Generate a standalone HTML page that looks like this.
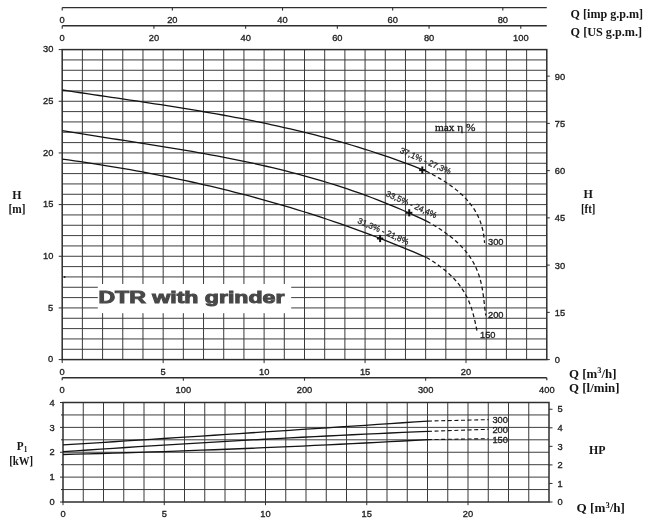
<!DOCTYPE html>
<html><head><meta charset="utf-8"><style>html,body{margin:0;padding:0;background:#fff;width:650px;height:521px;overflow:hidden}svg{display:block;will-change:transform} .n{font-family:'Liberation Sans',sans-serif;font-size:9.9px;fill:#222;stroke:#222;stroke-width:0.35px} .s{font-family:'Liberation Serif',serif;font-weight:bold;fill:#161616}</style></head>
<body><svg width="650" height="521" viewBox="0 0 650 521"><line x1="82.39" y1="49.60" x2="82.39" y2="359.60" stroke="#3a3a3a" stroke-width="1.0" />
<line x1="102.58" y1="49.60" x2="102.58" y2="359.60" stroke="#3a3a3a" stroke-width="1.0" />
<line x1="122.78" y1="49.60" x2="122.78" y2="359.60" stroke="#3a3a3a" stroke-width="1.0" />
<line x1="142.97" y1="49.60" x2="142.97" y2="359.60" stroke="#3a3a3a" stroke-width="1.0" />
<line x1="163.16" y1="49.60" x2="163.16" y2="359.60" stroke="#3a3a3a" stroke-width="1.0" />
<line x1="183.35" y1="49.60" x2="183.35" y2="359.60" stroke="#3a3a3a" stroke-width="1.0" />
<line x1="203.54" y1="49.60" x2="203.54" y2="359.60" stroke="#3a3a3a" stroke-width="1.0" />
<line x1="223.73" y1="49.60" x2="223.73" y2="359.60" stroke="#3a3a3a" stroke-width="1.0" />
<line x1="243.93" y1="49.60" x2="243.93" y2="359.60" stroke="#3a3a3a" stroke-width="1.0" />
<line x1="264.12" y1="49.60" x2="264.12" y2="359.60" stroke="#3a3a3a" stroke-width="1.0" />
<line x1="284.31" y1="49.60" x2="284.31" y2="359.60" stroke="#3a3a3a" stroke-width="1.0" />
<line x1="304.50" y1="49.60" x2="304.50" y2="359.60" stroke="#3a3a3a" stroke-width="1.0" />
<line x1="324.69" y1="49.60" x2="324.69" y2="359.60" stroke="#3a3a3a" stroke-width="1.0" />
<line x1="344.88" y1="49.60" x2="344.88" y2="359.60" stroke="#3a3a3a" stroke-width="1.0" />
<line x1="365.07" y1="49.60" x2="365.07" y2="359.60" stroke="#3a3a3a" stroke-width="1.0" />
<line x1="385.27" y1="49.60" x2="385.27" y2="359.60" stroke="#3a3a3a" stroke-width="1.0" />
<line x1="405.46" y1="49.60" x2="405.46" y2="359.60" stroke="#3a3a3a" stroke-width="1.0" />
<line x1="425.65" y1="49.60" x2="425.65" y2="359.60" stroke="#3a3a3a" stroke-width="1.0" />
<line x1="445.84" y1="49.60" x2="445.84" y2="359.60" stroke="#3a3a3a" stroke-width="1.0" />
<line x1="466.03" y1="49.60" x2="466.03" y2="359.60" stroke="#3a3a3a" stroke-width="1.0" />
<line x1="486.22" y1="49.60" x2="486.22" y2="359.60" stroke="#3a3a3a" stroke-width="1.0" />
<line x1="506.42" y1="49.60" x2="506.42" y2="359.60" stroke="#3a3a3a" stroke-width="1.0" />
<line x1="526.61" y1="49.60" x2="526.61" y2="359.60" stroke="#3a3a3a" stroke-width="1.0" />
<line x1="62.20" y1="349.27" x2="546.80" y2="349.27" stroke="#3e3e3e" stroke-width="1.0" />
<line x1="62.20" y1="338.93" x2="546.80" y2="338.93" stroke="#3e3e3e" stroke-width="1.0" />
<line x1="62.20" y1="328.60" x2="546.80" y2="328.60" stroke="#3e3e3e" stroke-width="1.0" />
<line x1="62.20" y1="318.27" x2="546.80" y2="318.27" stroke="#3e3e3e" stroke-width="1.0" />
<line x1="62.20" y1="307.93" x2="546.80" y2="307.93" stroke="#3e3e3e" stroke-width="1.0" />
<line x1="62.20" y1="297.60" x2="546.80" y2="297.60" stroke="#3e3e3e" stroke-width="1.0" />
<line x1="62.20" y1="287.27" x2="546.80" y2="287.27" stroke="#3e3e3e" stroke-width="1.0" />
<line x1="62.20" y1="276.93" x2="546.80" y2="276.93" stroke="#3e3e3e" stroke-width="1.0" />
<line x1="62.20" y1="266.60" x2="546.80" y2="266.60" stroke="#3e3e3e" stroke-width="1.0" />
<line x1="62.20" y1="256.27" x2="546.80" y2="256.27" stroke="#3e3e3e" stroke-width="1.0" />
<line x1="62.20" y1="245.93" x2="546.80" y2="245.93" stroke="#3e3e3e" stroke-width="1.0" />
<line x1="62.20" y1="235.60" x2="546.80" y2="235.60" stroke="#3e3e3e" stroke-width="1.0" />
<line x1="62.20" y1="225.27" x2="546.80" y2="225.27" stroke="#3e3e3e" stroke-width="1.0" />
<line x1="62.20" y1="214.93" x2="546.80" y2="214.93" stroke="#3e3e3e" stroke-width="1.0" />
<line x1="62.20" y1="204.60" x2="546.80" y2="204.60" stroke="#3e3e3e" stroke-width="1.0" />
<line x1="62.20" y1="194.27" x2="546.80" y2="194.27" stroke="#3e3e3e" stroke-width="1.0" />
<line x1="62.20" y1="183.93" x2="546.80" y2="183.93" stroke="#3e3e3e" stroke-width="1.0" />
<line x1="62.20" y1="173.60" x2="546.80" y2="173.60" stroke="#3e3e3e" stroke-width="1.0" />
<line x1="62.20" y1="163.27" x2="546.80" y2="163.27" stroke="#3e3e3e" stroke-width="1.0" />
<line x1="62.20" y1="152.93" x2="546.80" y2="152.93" stroke="#3e3e3e" stroke-width="1.0" />
<line x1="62.20" y1="142.60" x2="546.80" y2="142.60" stroke="#3e3e3e" stroke-width="1.0" />
<line x1="62.20" y1="132.27" x2="546.80" y2="132.27" stroke="#3e3e3e" stroke-width="1.0" />
<line x1="62.20" y1="121.93" x2="546.80" y2="121.93" stroke="#3e3e3e" stroke-width="1.0" />
<line x1="62.20" y1="111.60" x2="546.80" y2="111.60" stroke="#3e3e3e" stroke-width="1.0" />
<line x1="62.20" y1="101.27" x2="546.80" y2="101.27" stroke="#3e3e3e" stroke-width="1.0" />
<line x1="62.20" y1="90.93" x2="546.80" y2="90.93" stroke="#3e3e3e" stroke-width="1.0" />
<line x1="62.20" y1="80.60" x2="546.80" y2="80.60" stroke="#3e3e3e" stroke-width="1.0" />
<line x1="62.20" y1="70.27" x2="546.80" y2="70.27" stroke="#3e3e3e" stroke-width="1.0" />
<line x1="62.20" y1="59.93" x2="546.80" y2="59.93" stroke="#3e3e3e" stroke-width="1.0" />
<rect x="97.8" y="284" width="193.4" height="29.2" fill="#fff"/>
<rect x="62.20" y="49.60" width="484.60" height="310.00" fill="none" stroke="#2e2e2e" stroke-width="1.5"/>
<line x1="58.70" y1="359.60" x2="62.20" y2="359.60" stroke="#2e2e2e" stroke-width="1.0" />
<text transform="translate(53.30,362.30) scale(0.94,1)" class="n" text-anchor="end">0</text>
<line x1="58.70" y1="307.93" x2="62.20" y2="307.93" stroke="#2e2e2e" stroke-width="1.0" />
<text transform="translate(53.30,310.63) scale(0.94,1)" class="n" text-anchor="end">5</text>
<line x1="58.70" y1="256.27" x2="62.20" y2="256.27" stroke="#2e2e2e" stroke-width="1.0" />
<text transform="translate(53.30,258.97) scale(0.94,1)" class="n" text-anchor="end">10</text>
<line x1="58.70" y1="204.60" x2="62.20" y2="204.60" stroke="#2e2e2e" stroke-width="1.0" />
<text transform="translate(53.30,207.30) scale(0.94,1)" class="n" text-anchor="end">15</text>
<line x1="58.70" y1="152.93" x2="62.20" y2="152.93" stroke="#2e2e2e" stroke-width="1.0" />
<text transform="translate(53.30,155.63) scale(0.94,1)" class="n" text-anchor="end">20</text>
<line x1="58.70" y1="101.27" x2="62.20" y2="101.27" stroke="#2e2e2e" stroke-width="1.0" />
<text transform="translate(53.30,103.97) scale(0.94,1)" class="n" text-anchor="end">25</text>
<line x1="58.70" y1="49.60" x2="62.20" y2="49.60" stroke="#2e2e2e" stroke-width="1.0" />
<text transform="translate(53.30,52.30) scale(0.94,1)" class="n" text-anchor="end">30</text>
<line x1="546.80" y1="359.60" x2="549.80" y2="359.60" stroke="#2e2e2e" stroke-width="1.0" />
<text transform="translate(554.80,363.10) scale(0.94,1)" class="n" text-anchor="start">0</text>
<line x1="546.80" y1="312.36" x2="549.80" y2="312.36" stroke="#2e2e2e" stroke-width="1.0" />
<text transform="translate(554.80,315.86) scale(0.94,1)" class="n" text-anchor="start">15</text>
<line x1="546.80" y1="265.11" x2="549.80" y2="265.11" stroke="#2e2e2e" stroke-width="1.0" />
<text transform="translate(554.80,268.61) scale(0.94,1)" class="n" text-anchor="start">30</text>
<line x1="546.80" y1="217.87" x2="549.80" y2="217.87" stroke="#2e2e2e" stroke-width="1.0" />
<text transform="translate(554.80,221.37) scale(0.94,1)" class="n" text-anchor="start">45</text>
<line x1="546.80" y1="170.62" x2="549.80" y2="170.62" stroke="#2e2e2e" stroke-width="1.0" />
<text transform="translate(554.80,174.12) scale(0.94,1)" class="n" text-anchor="start">60</text>
<line x1="546.80" y1="123.38" x2="549.80" y2="123.38" stroke="#2e2e2e" stroke-width="1.0" />
<text transform="translate(554.80,126.88) scale(0.94,1)" class="n" text-anchor="start">75</text>
<line x1="546.80" y1="76.14" x2="549.80" y2="76.14" stroke="#2e2e2e" stroke-width="1.0" />
<text transform="translate(554.80,79.64) scale(0.94,1)" class="n" text-anchor="start">90</text>
<line x1="62.20" y1="359.60" x2="62.20" y2="363.10" stroke="#2e2e2e" stroke-width="1.0" />
<text transform="translate(62.20,374.80) scale(0.94,1)" class="n" text-anchor="middle">0</text>
<line x1="163.16" y1="359.60" x2="163.16" y2="363.10" stroke="#2e2e2e" stroke-width="1.0" />
<text transform="translate(163.16,374.80) scale(0.94,1)" class="n" text-anchor="middle">5</text>
<line x1="264.12" y1="359.60" x2="264.12" y2="363.10" stroke="#2e2e2e" stroke-width="1.0" />
<text transform="translate(264.12,374.80) scale(0.94,1)" class="n" text-anchor="middle">10</text>
<line x1="365.07" y1="359.60" x2="365.07" y2="363.10" stroke="#2e2e2e" stroke-width="1.0" />
<text transform="translate(365.07,374.80) scale(0.94,1)" class="n" text-anchor="middle">15</text>
<line x1="466.03" y1="359.60" x2="466.03" y2="363.10" stroke="#2e2e2e" stroke-width="1.0" />
<text transform="translate(466.03,374.80) scale(0.94,1)" class="n" text-anchor="middle">20</text>
<line x1="62.20" y1="377.70" x2="546.80" y2="377.70" stroke="#2e2e2e" stroke-width="1.4" />
<line x1="62.20" y1="377.70" x2="62.20" y2="380.20" stroke="#2e2e2e" stroke-width="1.2" />
<line x1="546.80" y1="377.70" x2="546.80" y2="380.20" stroke="#2e2e2e" stroke-width="1.2" />
<line x1="183.35" y1="377.70" x2="183.35" y2="380.70" stroke="#2e2e2e" stroke-width="1.1" />
<line x1="304.50" y1="377.70" x2="304.50" y2="380.70" stroke="#2e2e2e" stroke-width="1.1" />
<line x1="425.65" y1="377.70" x2="425.65" y2="380.70" stroke="#2e2e2e" stroke-width="1.1" />
<text transform="translate(62.20,392.90) scale(0.94,1)" class="n" text-anchor="middle">0</text>
<text transform="translate(183.35,392.90) scale(0.94,1)" class="n" text-anchor="middle">100</text>
<text transform="translate(304.50,392.90) scale(0.94,1)" class="n" text-anchor="middle">200</text>
<text transform="translate(425.65,392.90) scale(0.94,1)" class="n" text-anchor="middle">300</text>
<text transform="translate(546.80,392.90) scale(0.94,1)" class="n" text-anchor="middle">400</text>
<line x1="62.20" y1="7.60" x2="546.80" y2="7.60" stroke="#2e2e2e" stroke-width="1.4" />
<line x1="62.20" y1="25.70" x2="546.80" y2="25.70" stroke="#2e2e2e" stroke-width="1.4" />
<line x1="62.20" y1="7.60" x2="62.20" y2="10.60" stroke="#2e2e2e" stroke-width="1.1" />
<text transform="translate(62.20,23.10) scale(0.94,1)" class="n" text-anchor="middle">0</text>
<line x1="172.36" y1="7.60" x2="172.36" y2="10.60" stroke="#2e2e2e" stroke-width="1.1" />
<text transform="translate(172.36,23.10) scale(0.94,1)" class="n" text-anchor="middle">20</text>
<line x1="282.51" y1="7.60" x2="282.51" y2="10.60" stroke="#2e2e2e" stroke-width="1.1" />
<text transform="translate(282.51,23.10) scale(0.94,1)" class="n" text-anchor="middle">40</text>
<line x1="392.67" y1="7.60" x2="392.67" y2="10.60" stroke="#2e2e2e" stroke-width="1.1" />
<text transform="translate(392.67,23.10) scale(0.94,1)" class="n" text-anchor="middle">60</text>
<line x1="502.83" y1="7.60" x2="502.83" y2="10.60" stroke="#2e2e2e" stroke-width="1.1" />
<text transform="translate(502.83,23.10) scale(0.94,1)" class="n" text-anchor="middle">80</text>
<line x1="62.20" y1="25.70" x2="62.20" y2="28.70" stroke="#2e2e2e" stroke-width="1.1" />
<text transform="translate(62.20,40.90) scale(0.94,1)" class="n" text-anchor="middle">0</text>
<line x1="153.92" y1="25.70" x2="153.92" y2="28.70" stroke="#2e2e2e" stroke-width="1.1" />
<text transform="translate(153.92,40.90) scale(0.94,1)" class="n" text-anchor="middle">20</text>
<line x1="245.64" y1="25.70" x2="245.64" y2="28.70" stroke="#2e2e2e" stroke-width="1.1" />
<text transform="translate(245.64,40.90) scale(0.94,1)" class="n" text-anchor="middle">40</text>
<line x1="337.35" y1="25.70" x2="337.35" y2="28.70" stroke="#2e2e2e" stroke-width="1.1" />
<text transform="translate(337.35,40.90) scale(0.94,1)" class="n" text-anchor="middle">60</text>
<line x1="429.07" y1="25.70" x2="429.07" y2="28.70" stroke="#2e2e2e" stroke-width="1.1" />
<text transform="translate(429.07,40.90) scale(0.94,1)" class="n" text-anchor="middle">80</text>
<line x1="520.79" y1="25.70" x2="520.79" y2="28.70" stroke="#2e2e2e" stroke-width="1.1" />
<text transform="translate(520.79,40.90) scale(0.94,1)" class="n" text-anchor="middle">100</text>
<path d="M62.20,89.99 L68.37,90.92 L74.53,91.84 L80.70,92.76 L86.86,93.68 L93.03,94.59 L99.20,95.49 L105.36,96.40 L111.53,97.31 L117.69,98.22 L123.86,99.13 L130.03,100.04 L136.19,100.96 L142.36,101.89 L148.53,102.82 L154.69,103.77 L160.86,104.72 L167.02,105.68 L173.19,106.65 L179.36,107.64 L185.52,108.64 L191.69,109.66 L197.85,110.69 L204.02,111.74 L210.19,112.81 L216.35,113.90 L222.52,115.01 L228.68,116.14 L234.85,117.30 L241.02,118.48 L247.18,119.68 L253.35,120.92 L259.52,122.18 L265.68,123.47 L271.85,124.79 L278.01,126.14 L284.18,127.53 L290.35,128.95 L296.51,130.40 L302.68,131.89 L308.84,133.42 L315.01,134.98 L321.18,136.59 L327.34,138.24 L333.51,139.92 L339.67,141.66 L345.84,143.43 L352.01,145.25 L358.17,147.12 L364.34,149.04 L370.51,151.00 L376.67,153.02 L382.84,155.08 L389.00,157.20 L395.17,159.37 L401.34,161.60 L407.50,163.88 L413.67,166.22 L419.83,168.62 L426.00,171.08" fill="none" stroke="#141414" stroke-width="1.3"/>
<path d="M425.99,171.08 L428.89,172.54 L431.69,174.01 L434.40,175.47 L437.01,176.94 L439.53,178.41 L441.96,179.87 L444.31,181.34 L446.56,182.80 L448.73,184.27 L450.81,185.73 L452.81,187.20 L454.74,188.67 L456.58,190.13 L458.34,191.60 L460.03,193.06 L461.65,194.53 L463.19,195.99 L464.67,197.46 L466.07,198.93 L467.41,200.39 L468.68,201.86 L469.89,203.32 L471.03,204.79 L472.12,206.26 L473.15,207.72 L474.12,209.19 L475.03,210.65 L475.89,212.12 L476.70,213.58 L477.46,215.05 L478.17,216.52 L478.84,217.98 L479.46,219.45 L480.03,220.91 L480.56,222.38 L481.06,223.84 L481.51,225.31 L481.93,226.78 L482.31,228.24 L482.66,229.71 L482.98,231.17 L483.27,232.64 L483.53,234.11 L483.76,235.57 L483.97,237.04 L484.15,238.50 L484.31,239.97 L484.46,241.43 L484.58,242.90" fill="none" stroke="#141414" stroke-width="1.25" stroke-dasharray="4,2.8"/>
<path d="M62.20,130.65 L68.38,131.67 L74.57,132.68 L80.75,133.68 L86.93,134.66 L93.12,135.64 L99.30,136.61 L105.48,137.57 L111.66,138.53 L117.85,139.49 L124.03,140.45 L130.21,141.42 L136.40,142.38 L142.58,143.35 L148.76,144.32 L154.95,145.31 L161.13,146.30 L167.31,147.31 L173.49,148.32 L179.68,149.36 L185.86,150.40 L192.04,151.47 L198.23,152.55 L204.41,153.66 L210.59,154.79 L216.78,155.94 L222.96,157.12 L229.14,158.33 L235.33,159.57 L241.51,160.84 L247.69,162.14 L253.87,163.47 L260.06,164.84 L266.24,166.25 L272.42,167.70 L278.61,169.18 L284.79,170.71 L290.97,172.29 L297.16,173.91 L303.34,175.57 L309.52,177.29 L315.71,179.06 L321.89,180.88 L328.07,182.75 L334.25,184.68 L340.44,186.66 L346.62,188.71 L352.80,190.81 L358.99,192.98 L365.17,195.21 L371.35,197.50 L377.54,199.87 L383.72,202.30 L389.90,204.80 L396.08,207.37 L402.27,210.02 L408.45,212.74 L414.63,215.54 L420.82,218.42 L427.00,221.37" fill="none" stroke="#141414" stroke-width="1.3"/>
<path d="M427.01,221.37 L430.46,223.29 L433.77,225.21 L436.93,227.14 L439.94,229.06 L442.82,230.98 L445.56,232.90 L448.17,234.82 L450.66,236.74 L453.02,238.66 L455.26,240.58 L457.38,242.50 L459.39,244.42 L461.29,246.35 L463.08,248.27 L464.76,250.19 L466.35,252.11 L467.84,254.03 L469.24,255.95 L470.55,257.87 L471.78,259.79 L472.92,261.71 L473.98,263.63 L474.97,265.56 L475.89,267.48 L476.74,269.40 L477.52,271.32 L478.24,273.24 L478.91,275.16 L479.52,277.08 L480.08,279.00 L480.59,280.92 L481.06,282.84 L481.49,284.76 L481.89,286.69 L482.25,288.61 L482.58,290.53 L482.88,292.45 L483.16,294.37 L483.42,296.29 L483.67,298.21 L483.91,300.13 L484.13,302.05 L484.35,303.97 L484.57,305.90 L484.79,307.82 L485.02,309.74 L485.26,311.66 L485.51,313.58 L485.77,315.50" fill="none" stroke="#141414" stroke-width="1.25" stroke-dasharray="4,2.8"/>
<path d="M62.20,159.10 L68.37,159.95 L74.55,160.82 L80.72,161.72 L86.90,162.64 L93.07,163.58 L99.25,164.54 L105.42,165.53 L111.60,166.54 L117.77,167.57 L123.95,168.63 L130.12,169.72 L136.29,170.82 L142.47,171.96 L148.64,173.12 L154.82,174.31 L160.99,175.52 L167.17,176.76 L173.34,178.03 L179.52,179.32 L185.69,180.64 L191.87,181.99 L198.04,183.37 L204.22,184.78 L210.39,186.22 L216.56,187.68 L222.74,189.18 L228.91,190.71 L235.09,192.26 L241.26,193.85 L247.44,195.47 L253.61,197.12 L259.79,198.80 L265.96,200.52 L272.14,202.26 L278.31,204.04 L284.48,205.86 L290.66,207.70 L296.83,209.58 L303.01,211.50 L309.18,213.45 L315.36,215.43 L321.53,217.45 L327.71,219.50 L333.88,221.59 L340.06,223.72 L346.23,225.88 L352.41,228.08 L358.58,230.32 L364.75,232.59 L370.93,234.91 L377.10,237.26 L383.28,239.65 L389.45,242.07 L395.63,244.54 L401.80,247.05 L407.98,249.59 L414.15,252.18 L420.33,254.81 L426.50,257.48" fill="none" stroke="#141414" stroke-width="1.3"/>
<path d="M426.49,257.48 L429.06,259.02 L431.53,260.56 L433.90,262.10 L436.18,263.64 L438.36,265.18 L440.46,266.72 L442.48,268.26 L444.40,269.81 L446.25,271.35 L448.02,272.89 L449.70,274.43 L451.32,275.97 L452.85,277.51 L454.32,279.05 L455.72,280.60 L457.05,282.14 L458.31,283.68 L459.52,285.22 L460.66,286.76 L461.74,288.30 L462.77,289.84 L463.74,291.38 L464.66,292.93 L465.53,294.47 L466.36,296.01 L467.14,297.55 L467.87,299.09 L468.56,300.63 L469.22,302.17 L469.84,303.72 L470.42,305.26 L470.97,306.80 L471.49,308.34 L471.98,309.88 L472.45,311.42 L472.89,312.96 L473.31,314.50 L473.71,316.05 L474.09,317.59 L474.46,319.13 L474.82,320.67 L475.16,322.21 L475.50,323.75 L475.83,325.29 L476.15,326.83 L476.48,328.38 L476.80,329.92 L477.12,331.46 L477.45,333.00" fill="none" stroke="#141414" stroke-width="1.25" stroke-dasharray="4,2.8"/>
<line x1="419.10" y1="170.10" x2="425.50" y2="170.10" stroke="#111" stroke-width="2.0" />
<line x1="422.30" y1="166.50" x2="422.30" y2="173.70" stroke="#111" stroke-width="2.0" />
<line x1="406.00" y1="212.80" x2="412.40" y2="212.80" stroke="#111" stroke-width="2.0" />
<line x1="409.20" y1="209.20" x2="409.20" y2="216.40" stroke="#111" stroke-width="2.0" />
<line x1="376.90" y1="238.50" x2="383.30" y2="238.50" stroke="#111" stroke-width="2.0" />
<line x1="380.10" y1="234.90" x2="380.10" y2="242.10" stroke="#111" stroke-width="2.0" />
<text x="0" y="0" transform="translate(399.30,152.50) rotate(23.7)" font-family="Liberation Sans" font-size="8.4" fill="#2b2b2b" stroke="#2b2b2b" stroke-width="0.3">37,1% - 27,3%</text>
<text x="0" y="0" transform="translate(385.30,195.80) rotate(24.2)" font-family="Liberation Sans" font-size="8.4" fill="#2b2b2b" stroke="#2b2b2b" stroke-width="0.3">33,5% - 24,4%</text>
<text x="0" y="0" transform="translate(357.10,222.80) rotate(23.7)" font-family="Liberation Sans" font-size="8.4" fill="#2b2b2b" stroke="#2b2b2b" stroke-width="0.3">31,3% - 21,8%</text>
<text transform="translate(488.00,244.80) scale(0.94,1)" class="n" text-anchor="start">300</text>
<text transform="translate(488.00,317.60) scale(0.94,1)" class="n" text-anchor="start">200</text>
<text transform="translate(480.00,337.50) scale(0.94,1)" class="n" text-anchor="start">150</text>
<text x="435.00" y="130.70" font-family="Liberation Serif" font-size="11" font-weight="normal" fill="#1a1a1a" text-anchor="start" textLength="40.5" lengthAdjust="spacingAndGlyphs" stroke="#1a1a1a" stroke-width="0.35">max η %</text>
<circle cx="64.6" cy="276.9" r="1" fill="#222"/>
<text x="98.40" y="302.90" font-family="Liberation Sans" font-size="16" font-weight="bold" fill="#484848" text-anchor="start" textLength="186" lengthAdjust="spacingAndGlyphs" stroke="#484848" stroke-width="0.95">DTR with grinder</text>
<line x1="83.25" y1="402.50" x2="83.25" y2="502.00" stroke="#3a3a3a" stroke-width="1.0" />
<line x1="103.50" y1="402.50" x2="103.50" y2="502.00" stroke="#3a3a3a" stroke-width="1.0" />
<line x1="123.75" y1="402.50" x2="123.75" y2="502.00" stroke="#3a3a3a" stroke-width="1.0" />
<line x1="144.00" y1="402.50" x2="144.00" y2="502.00" stroke="#3a3a3a" stroke-width="1.0" />
<line x1="164.25" y1="402.50" x2="164.25" y2="502.00" stroke="#3a3a3a" stroke-width="1.0" />
<line x1="184.50" y1="402.50" x2="184.50" y2="502.00" stroke="#3a3a3a" stroke-width="1.0" />
<line x1="204.75" y1="402.50" x2="204.75" y2="502.00" stroke="#3a3a3a" stroke-width="1.0" />
<line x1="225.00" y1="402.50" x2="225.00" y2="502.00" stroke="#3a3a3a" stroke-width="1.0" />
<line x1="245.25" y1="402.50" x2="245.25" y2="502.00" stroke="#3a3a3a" stroke-width="1.0" />
<line x1="265.50" y1="402.50" x2="265.50" y2="502.00" stroke="#3a3a3a" stroke-width="1.0" />
<line x1="285.75" y1="402.50" x2="285.75" y2="502.00" stroke="#3a3a3a" stroke-width="1.0" />
<line x1="306.00" y1="402.50" x2="306.00" y2="502.00" stroke="#3a3a3a" stroke-width="1.0" />
<line x1="326.25" y1="402.50" x2="326.25" y2="502.00" stroke="#3a3a3a" stroke-width="1.0" />
<line x1="346.50" y1="402.50" x2="346.50" y2="502.00" stroke="#3a3a3a" stroke-width="1.0" />
<line x1="366.75" y1="402.50" x2="366.75" y2="502.00" stroke="#3a3a3a" stroke-width="1.0" />
<line x1="387.00" y1="402.50" x2="387.00" y2="502.00" stroke="#3a3a3a" stroke-width="1.0" />
<line x1="407.25" y1="402.50" x2="407.25" y2="502.00" stroke="#3a3a3a" stroke-width="1.0" />
<line x1="427.50" y1="402.50" x2="427.50" y2="502.00" stroke="#3a3a3a" stroke-width="1.0" />
<line x1="447.75" y1="402.50" x2="447.75" y2="502.00" stroke="#3a3a3a" stroke-width="1.0" />
<line x1="468.00" y1="402.50" x2="468.00" y2="502.00" stroke="#3a3a3a" stroke-width="1.0" />
<line x1="488.25" y1="402.50" x2="488.25" y2="502.00" stroke="#3a3a3a" stroke-width="1.0" />
<line x1="508.50" y1="402.50" x2="508.50" y2="502.00" stroke="#3a3a3a" stroke-width="1.0" />
<line x1="528.75" y1="402.50" x2="528.75" y2="502.00" stroke="#3a3a3a" stroke-width="1.0" />
<line x1="63.00" y1="489.56" x2="549.00" y2="489.56" stroke="#3e3e3e" stroke-width="1.0" />
<line x1="63.00" y1="477.12" x2="549.00" y2="477.12" stroke="#3e3e3e" stroke-width="1.0" />
<line x1="63.00" y1="464.69" x2="549.00" y2="464.69" stroke="#3e3e3e" stroke-width="1.0" />
<line x1="63.00" y1="452.25" x2="549.00" y2="452.25" stroke="#3e3e3e" stroke-width="1.0" />
<line x1="63.00" y1="439.81" x2="549.00" y2="439.81" stroke="#3e3e3e" stroke-width="1.0" />
<line x1="63.00" y1="427.38" x2="549.00" y2="427.38" stroke="#3e3e3e" stroke-width="1.0" />
<line x1="63.00" y1="414.94" x2="549.00" y2="414.94" stroke="#3e3e3e" stroke-width="1.0" />
<rect x="63.00" y="402.50" width="486.00" height="99.50" fill="none" stroke="#2e2e2e" stroke-width="1.5"/>
<line x1="61.00" y1="489.56" x2="63.00" y2="489.56" stroke="#2e2e2e" stroke-width="1.0" />
<line x1="61.00" y1="464.69" x2="63.00" y2="464.69" stroke="#2e2e2e" stroke-width="1.0" />
<line x1="61.00" y1="439.81" x2="63.00" y2="439.81" stroke="#2e2e2e" stroke-width="1.0" />
<line x1="61.00" y1="414.94" x2="63.00" y2="414.94" stroke="#2e2e2e" stroke-width="1.0" />
<line x1="60.00" y1="502.00" x2="63.00" y2="502.00" stroke="#2e2e2e" stroke-width="1.0" />
<text transform="translate(54.80,505.20) scale(0.94,1)" class="n" text-anchor="end">0</text>
<line x1="60.00" y1="477.12" x2="63.00" y2="477.12" stroke="#2e2e2e" stroke-width="1.0" />
<text transform="translate(54.80,480.32) scale(0.94,1)" class="n" text-anchor="end">1</text>
<line x1="60.00" y1="452.25" x2="63.00" y2="452.25" stroke="#2e2e2e" stroke-width="1.0" />
<text transform="translate(54.80,455.45) scale(0.94,1)" class="n" text-anchor="end">2</text>
<line x1="60.00" y1="427.38" x2="63.00" y2="427.38" stroke="#2e2e2e" stroke-width="1.0" />
<text transform="translate(54.80,430.57) scale(0.94,1)" class="n" text-anchor="end">3</text>
<line x1="60.00" y1="402.50" x2="63.00" y2="402.50" stroke="#2e2e2e" stroke-width="1.0" />
<text transform="translate(54.80,405.70) scale(0.94,1)" class="n" text-anchor="end">4</text>
<line x1="549.00" y1="502.00" x2="552.50" y2="502.00" stroke="#2e2e2e" stroke-width="1.0" />
<text transform="translate(557.50,505.20) scale(0.94,1)" class="n" text-anchor="start">0</text>
<line x1="549.00" y1="483.45" x2="552.50" y2="483.45" stroke="#2e2e2e" stroke-width="1.0" />
<text transform="translate(557.50,486.65) scale(0.94,1)" class="n" text-anchor="start">1</text>
<line x1="549.00" y1="464.90" x2="552.50" y2="464.90" stroke="#2e2e2e" stroke-width="1.0" />
<text transform="translate(557.50,468.10) scale(0.94,1)" class="n" text-anchor="start">2</text>
<line x1="549.00" y1="446.35" x2="552.50" y2="446.35" stroke="#2e2e2e" stroke-width="1.0" />
<text transform="translate(557.50,449.55) scale(0.94,1)" class="n" text-anchor="start">3</text>
<line x1="549.00" y1="427.80" x2="552.50" y2="427.80" stroke="#2e2e2e" stroke-width="1.0" />
<text transform="translate(557.50,431.00) scale(0.94,1)" class="n" text-anchor="start">4</text>
<line x1="549.00" y1="409.25" x2="552.50" y2="409.25" stroke="#2e2e2e" stroke-width="1.0" />
<text transform="translate(557.50,412.45) scale(0.94,1)" class="n" text-anchor="start">5</text>
<line x1="63.00" y1="502.00" x2="63.00" y2="505.20" stroke="#2e2e2e" stroke-width="1.0" />
<text transform="translate(63.00,517.40) scale(0.94,1)" class="n" text-anchor="middle">0</text>
<line x1="164.25" y1="502.00" x2="164.25" y2="505.20" stroke="#2e2e2e" stroke-width="1.0" />
<text transform="translate(164.25,517.40) scale(0.94,1)" class="n" text-anchor="middle">5</text>
<line x1="265.50" y1="502.00" x2="265.50" y2="505.20" stroke="#2e2e2e" stroke-width="1.0" />
<text transform="translate(265.50,517.40) scale(0.94,1)" class="n" text-anchor="middle">10</text>
<line x1="366.75" y1="502.00" x2="366.75" y2="505.20" stroke="#2e2e2e" stroke-width="1.0" />
<text transform="translate(366.75,517.40) scale(0.94,1)" class="n" text-anchor="middle">15</text>
<line x1="468.00" y1="502.00" x2="468.00" y2="505.20" stroke="#2e2e2e" stroke-width="1.0" />
<text transform="translate(468.00,517.40) scale(0.94,1)" class="n" text-anchor="middle">20</text>
<path d="M63.00,444.95 L75.59,444.14 L88.17,443.34 L100.76,442.54 L113.34,441.73 L125.93,440.92 L138.52,440.11 L151.10,439.30 L163.69,438.49 L176.28,437.68 L188.86,436.86 L201.45,436.05 L214.03,435.23 L226.62,434.41 L239.21,433.59 L251.79,432.76 L264.38,431.94 L276.97,431.11 L289.55,430.28 L302.14,429.45 L314.72,428.62 L327.31,427.79 L339.90,426.96 L352.48,426.12 L365.07,425.29 L377.66,424.45 L390.24,423.61 L402.83,422.76 L415.41,421.92 L428.00,421.08" fill="none" stroke="#141414" stroke-width="1.3"/>
<line x1="428.00" y1="421.08" x2="488.50" y2="419.60" stroke="#141414" stroke-width="1.1" stroke-dasharray="4,2.6"/>
<path d="M63.00,451.69 L75.59,450.83 L88.17,449.98 L100.76,449.14 L113.34,448.31 L125.93,447.49 L138.52,446.68 L151.10,445.89 L163.69,445.11 L176.28,444.34 L188.86,443.58 L201.45,442.83 L214.03,442.09 L226.62,441.37 L239.21,440.65 L251.79,439.95 L264.38,439.26 L276.97,438.58 L289.55,437.91 L302.14,437.26 L314.72,436.61 L327.31,435.98 L339.90,435.36 L352.48,434.75 L365.07,434.15 L377.66,433.56 L390.24,432.99 L402.83,432.43 L415.41,431.87 L428.00,431.33" fill="none" stroke="#141414" stroke-width="1.3"/>
<line x1="428.00" y1="431.33" x2="488.50" y2="429.30" stroke="#141414" stroke-width="1.1" stroke-dasharray="4,2.6"/>
<path d="M63.00,454.52 L75.59,454.19 L88.17,453.86 L100.76,453.50 L113.34,453.14 L125.93,452.76 L138.52,452.37 L151.10,451.96 L163.69,451.55 L176.28,451.11 L188.86,450.67 L201.45,450.21 L214.03,449.73 L226.62,449.25 L239.21,448.75 L251.79,448.23 L264.38,447.70 L276.97,447.16 L289.55,446.61 L302.14,446.04 L314.72,445.46 L327.31,444.86 L339.90,444.26 L352.48,443.63 L365.07,443.00 L377.66,442.35 L390.24,441.69 L402.83,441.01 L415.41,440.32 L428.00,439.62" fill="none" stroke="#141414" stroke-width="1.3"/>
<line x1="428.00" y1="439.62" x2="488.50" y2="438.70" stroke="#141414" stroke-width="1.1" stroke-dasharray="4,2.6"/>
<text transform="translate(492.40,423.40) scale(0.94,1)" class="n" text-anchor="start">300</text>
<text transform="translate(492.40,432.60) scale(0.94,1)" class="n" text-anchor="start">200</text>
<text transform="translate(492.40,442.50) scale(0.94,1)" class="n" text-anchor="start">150</text>
<text x="570.6" y="18.1" class="s" font-size="11.5" text-anchor="start" textLength="72.5" lengthAdjust="spacingAndGlyphs">Q [imp g.p.m]</text>
<text x="570.6" y="35.7" class="s" font-size="11.5" text-anchor="start" textLength="71.5" lengthAdjust="spacingAndGlyphs">Q [US g.p.m.]</text>
<text x="569" y="377.8" class="s" font-size="11.5" text-anchor="start" textLength="47.5" lengthAdjust="spacingAndGlyphs">Q [m<tspan font-size="7.5" dy="-4.5">3</tspan><tspan dy="4.5">/h]</tspan></text>
<text x="569" y="392.3" class="s" font-size="11.5" text-anchor="start" textLength="50.5" lengthAdjust="spacingAndGlyphs">Q [l/min]</text>
<text x="576.6" y="512.3" class="s" font-size="11.5" text-anchor="start" textLength="48.4" lengthAdjust="spacingAndGlyphs">Q [m<tspan font-size="7.5" dy="-4.5">3</tspan><tspan dy="4.5">/h]</tspan></text>
<text x="12.3" y="198.5" class="s" font-size="11.5" text-anchor="start" textLength="9.2" lengthAdjust="spacingAndGlyphs">H</text>
<text x="8.6" y="213.3" class="s" font-size="11.5" text-anchor="start" textLength="17" lengthAdjust="spacingAndGlyphs">[m]</text>
<text x="583.6" y="198.1" class="s" font-size="11.5" text-anchor="start" textLength="9.4" lengthAdjust="spacingAndGlyphs">H</text>
<text x="581" y="212.5" class="s" font-size="11.5" text-anchor="start" textLength="14.5" lengthAdjust="spacingAndGlyphs">[ft]</text>
<text x="16.8" y="450.0" class="s" font-size="11.5" text-anchor="start" textLength="10.5" lengthAdjust="spacingAndGlyphs">P<tspan font-size="7.5" dy="2">1</tspan></text>
<text x="9.2" y="465" class="s" font-size="11.5" text-anchor="start" textLength="24" lengthAdjust="spacingAndGlyphs">[kW]</text>
<text x="589" y="454.3" class="s" font-size="11.5" text-anchor="start" textLength="16.5" lengthAdjust="spacingAndGlyphs">HP</text></svg></body></html>
